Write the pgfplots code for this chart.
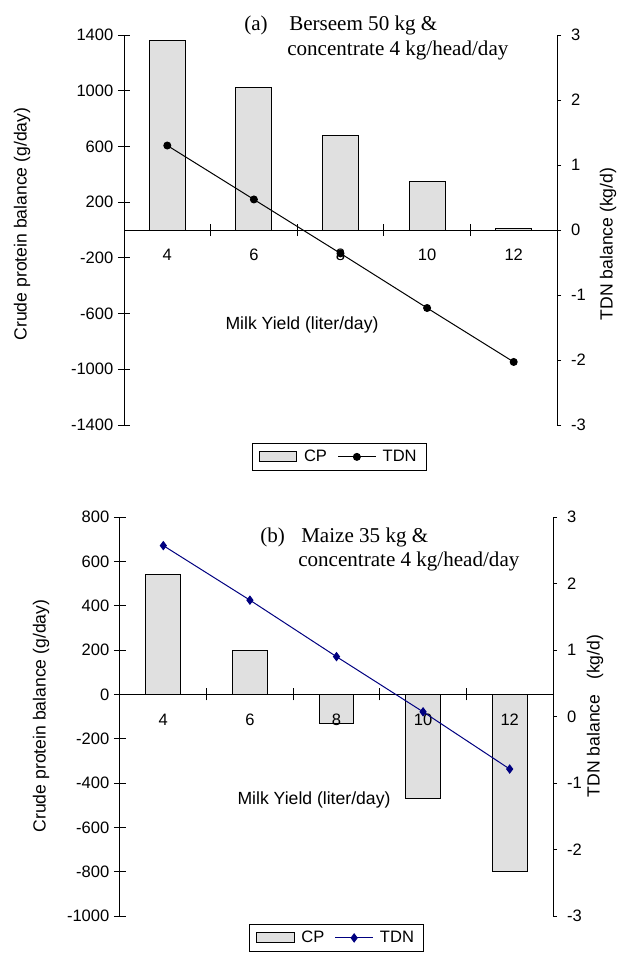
\documentclass[border=0pt]{standalone}
\usepackage{fontspec}
\setmainfont{Liberation Sans}
\newfontfamily\serif{Liberation Serif}
\usepackage{pgfplots}
\pgfplotsset{compat=1.18}
\definecolor{barfill}{RGB}{224,224,224}
\definecolor{tdnblue}{RGB}{0,0,128}
\pgfplotsset{
  base/.style={scale only axis, width=324.75pt, xmin=3, xmax=13, anchor=south west,
    /pgf/number format/assume math mode=true,
    /pgf/number format/1000 sep={},
    scaled y ticks=false,
    tick label style={font=\fontsize{12.4}{14}\selectfont},
    every tick/.style={black, line width=0.75pt},
  },
  leftax/.style={base, axis y line=left, axis x line=middle,
    axis line style={-, line width=0.75pt},
    every outer y axis line/.append style={-},
    every inner x axis line/.append style={-},
    axis on top,
    xtick={3,5,...,13}, xticklabels={},
    extra x ticks={4,6,8,10,12},
    extra x tick style={major tick length=0pt, xticklabel style={yshift=-11pt}},
    tick align=center, major tick length=9pt,
    legend columns=2,
    legend style={draw=black, line width=0.75pt, font=\fontsize{12.4}{14}\selectfont,
      inner xsep=5pt, inner ysep=3pt,
      /tikz/every odd column/.append style={column sep=3pt},
      /tikz/every even column/.append style={column sep=6pt}},
  },
  rightax/.style={base, axis y line=right, axis x line=none,
    axis line style={-, line width=0.75pt},
    every outer y axis line/.append style={-},
    ymin=-3, ymax=3, ytick={-3,-2,...,3},
    yticklabel style={xshift=4pt},
    tick align=outside, major tick length=3pt},
  barlegend/.style={legend image code/.code={\draw[##1,/tikz/.cd] (0pt,-3.75pt) rectangle (28pt,3.75pt);}},
  linelegend/.style={legend image code/.code={\draw[mark repeat=2,mark phase=2,##1] plot coordinates {(0pt,0pt) (14pt,0pt) (28pt,0pt)};}},
}
\begin{document}
\begin{tikzpicture}
% ---------------- panel (a)
\begin{axis}[leftax, at={(93pt,-318.75pt)}, height=292.5pt,
  ymin=-1400, ymax=1400, ytick={-1400,-1000,...,1400},
  legend style={at={(0.497,-0.046)}, anchor=north}]
\addplot[ybar, bar width=0.83, fill=barfill, draw=black, line width=0.75pt, barlegend]
  coordinates {(4,1360) (6,1020) (8,680) (10,350) (12,10)};
\addlegendentry{CP}
\addlegendimage{black, line width=0.75pt, mark=*, mark size=2.6pt, linelegend}
\addlegendentry{TDN}
\end{axis}
\begin{axis}[rightax, at={(93pt,-318.75pt)}, height=292.5pt]
\addplot[black, line width=0.75pt, mark=*, mark size=2.6pt]
  coordinates {(4,1.30) (6,0.47) (8,-0.36) (10,-1.20) (12,-2.03)};
\end{axis}
% ---------------- panel (b)
\begin{axis}[leftax, at={(90pt,-687pt)}, height=299.25pt,
  ymin=-1000, ymax=800, ytick={-1000,-800,...,800},
  legend style={at={(0.5,-0.02)}, anchor=north}]
\addplot[ybar, bar width=0.8, fill=barfill, draw=black, line width=0.75pt, barlegend]
  coordinates {(4,540) (6,200) (8,-130) (10,-470) (12,-800)};
\addlegendentry{CP}
\addlegendimage{tdnblue, line width=0.75pt, mark=diamond*, mark size=3pt, linelegend}
\addlegendentry{TDN}
\end{axis}
\begin{axis}[rightax, at={(90pt,-687pt)}, height=299.25pt]
\addplot[tdnblue, line width=0.75pt, mark=diamond*, mark size=3pt]
  coordinates {(4,2.57) (6,1.75) (8,0.90) (10,0.07) (12,-0.79)};
\end{axis}
% ---------------- texts
\begin{scope}[every node/.style={inner sep=0pt}]
\node[anchor=west, font=\serif\fontsize{15.8}{18}\selectfont] at (244*0.75pt,-25*0.75pt) {(a)};
\node[anchor=west, font=\serif\fontsize{15.8}{18}\selectfont] at (289*0.75pt,-25*0.75pt) {Berseem 50 kg \&};
\node[anchor=west, font=\serif\fontsize{15.8}{18}\selectfont] at (287*0.75pt,-50*0.75pt) {concentrate 4 kg/head/day};
\node[anchor=west, font=\serif\fontsize{15.8}{18}\selectfont] at (260*0.75pt,-537*0.75pt) {(b)};
\node[anchor=west, font=\serif\fontsize{15.8}{18}\selectfont] at (301*0.75pt,-537*0.75pt) {Maize 35 kg \&};
\node[anchor=west, font=\serif\fontsize{15.8}{18}\selectfont] at (298*0.75pt,-561*0.75pt) {concentrate 4 kg/head/day};
\node[font=\fontsize{13.2}{15}\selectfont] at (302*0.75pt,-325*0.75pt) {Milk Yield (liter/day)};
\node[font=\fontsize{13.2}{15}\selectfont] at (314*0.75pt,-800*0.75pt) {Milk Yield (liter/day)};
\node[rotate=90, font=\fontsize{13.2}{15}\selectfont] at (22*0.75pt,-224*0.75pt) {Crude protein balance (g/day)};
\node[rotate=90, font=\fontsize{13.2}{15}\selectfont] at (608*0.75pt,-244*0.75pt) {TDN balance (kg/d)};
\node[rotate=90, font=\fontsize{13.2}{15}\selectfont] at (41*0.75pt,-716*0.75pt) {Crude protein balance (g/day)};
\node[rotate=90, font=\fontsize{13.2}{15}\selectfont] at (595*0.75pt,-716*0.75pt) {TDN balance \ \ (kg/d)};
\end{scope}
\pgfresetboundingbox
\path[use as bounding box] (0pt,0pt) rectangle (463.5pt,-715.5pt);
\end{tikzpicture}
\end{document}
